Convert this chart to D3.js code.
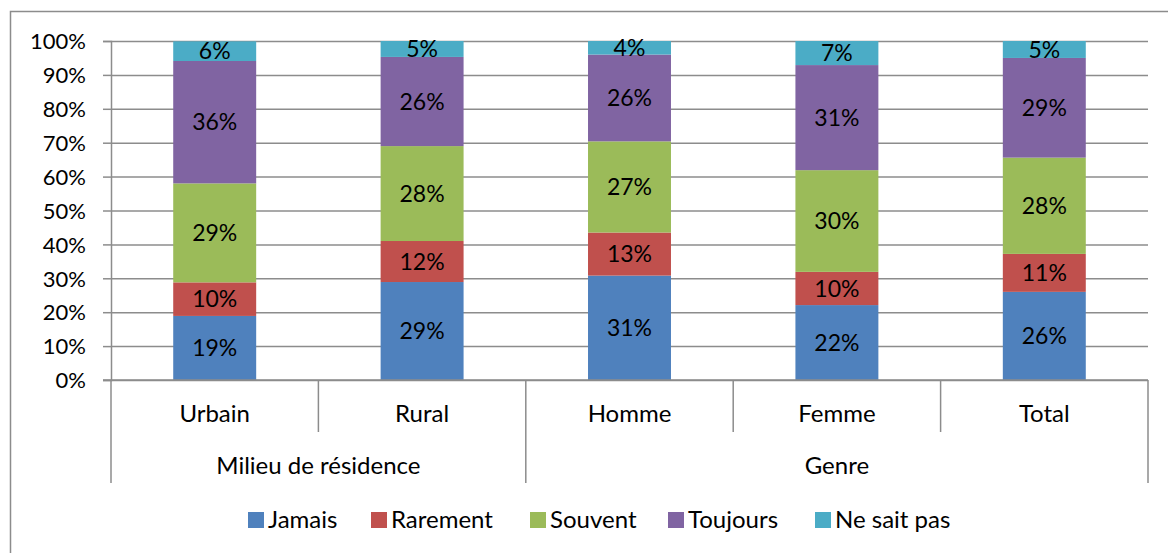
<!DOCTYPE html>
<html>
<head>
<meta charset="utf-8">
<script src="https://cdn.jsdelivr.net/npm/d3@7"></script>
<style>
  body { margin: 0; background: #fff; }
  text { font-family: Lato, "Open Sans", sans-serif; fill: #000; }
</style>
</head>
<body>
<script>
// Data
const categories = ["Urbain", "Rural", "Homme", "Femme", "Total"];
const groups = [
  { name: "Milieu de résidence", from: 0, to: 2 },
  { name: "Genre", from: 2, to: 5 }
];
const seriesNames = ["Jamais", "Rarement", "Souvent", "Toujours", "Ne sait pas"];
const colors = ["#4F81BD", "#C0504D", "#9BBB59", "#8064A2", "#4BACC6"];
const jamais   = [0.189, 0.289, 0.308, 0.221, 0.260];
const rarement = [0.099, 0.121, 0.127, 0.098, 0.112];
const souvent  = [0.292, 0.280, 0.269, 0.300, 0.284];
const toujours = [0.361, 0.263, 0.256, 0.310, 0.294];
const nesaitpas = [0.058, 0.047, 0.040, 0.071, 0.050];
const yTicks = [0, 0.1, 0.2, 0.3, 0.4, 0.5, 0.6, 0.7, 0.8, 0.9, 1];

const width = 1168, height = 553;
const plotLeft = 111, plotRight = 1148, plotTop = 41, plotBottom = 380;
const axisColor = "#8c8c8c";
const fontSize = "23px";
const catFontSize = "24px";

const svg = d3.select("body").append("svg")
  .attr("width", width)
  .attr("height", height);

// chart border
svg.append("rect")
  .attr("x", 10.5).attr("y", 11.5)
  .attr("width", 1300).attr("height", 700)
  .attr("fill", "none")
  .attr("stroke", axisColor)
  .attr("stroke-width", 1.5);

const table = categories.map((c, i) => ({
  cat: c,
  "Jamais": jamais[i], "Rarement": rarement[i], "Souvent": souvent[i],
  "Toujours": toujours[i], "Ne sait pas": nesaitpas[i]
}));
const stacked = d3.stack().keys(seriesNames)(table);

const x = d3.scaleBand().domain(categories).range([plotLeft, plotRight])
  .paddingInner(0.6).paddingOuter(0.3);
const y = d3.scaleLinear().domain([0, 1]).range([plotBottom, plotTop]);

// gridlines + y axis
const yAxis = svg.append("g")
  .attr("transform", `translate(${plotLeft},0)`)
  .call(d3.axisLeft(y).tickValues(yTicks).tickFormat(d3.format(".0%"))
    .tickSize(8).tickPadding(17));
yAxis.select(".domain").attr("stroke", axisColor).attr("stroke-width", 1.5);
yAxis.selectAll(".tick line").attr("stroke", axisColor).attr("stroke-width", 1.5);
yAxis.selectAll(".tick text").style("font-size", "22px").attr("dy", "0.35em");
yAxis.selectAll(".tick").append("line")
  .attr("x1", 0).attr("x2", plotRight - plotLeft)
  .attr("stroke", axisColor).attr("stroke-width", 1.5);

// bars
const layers = svg.append("g").selectAll("g")
  .data(stacked).join("g")
  .attr("fill", (d, i) => colors[i]);
layers.selectAll("rect")
  .data(d => d).join("rect")
  .attr("x", d => x(d.data.cat))
  .attr("y", d => y(d[1]))
  .attr("width", x.bandwidth())
  .attr("height", d => y(d[0]) - y(d[1]));

// data labels
layers.selectAll("text")
  .data(d => d.map(v => ({ v, key: d.key }))).join("text")
  .attr("x", d => x(d.v.data.cat) + x.bandwidth() / 2)
  .attr("y", d => (y(d.v[0]) + y(d.v[1])) / 2)
  .attr("dy", "0.35em")
  .attr("text-anchor", "middle")
  .style("font-size", fontSize)
  .text(d => d3.format(".0%")(d.v.data[d.key]));

// category axis
const step = x.step();
const catStart = i => plotLeft + i * step;
svg.append("line")
  .attr("x1", plotLeft - 8).attr("x2", plotRight)
  .attr("y1", plotBottom).attr("y2", plotBottom)
  .attr("stroke", axisColor).attr("stroke-width", 1.5);

const groupEdges = new Set(groups.flatMap(g => [g.from, g.to]));
d3.range(categories.length + 1).forEach(i => {
  svg.append("line")
    .attr("x1", catStart(i)).attr("x2", catStart(i))
    .attr("y1", plotBottom).attr("y2", groupEdges.has(i) ? 483 : 432)
    .attr("stroke", axisColor).attr("stroke-width", 1.5);
});

svg.append("g").selectAll("text")
  .data(categories).join("text")
  .attr("x", (d, i) => catStart(i) + step / 2)
  .attr("y", 414)
  .attr("dy", "0.35em")
  .attr("text-anchor", "middle")
  .style("font-size", catFontSize)
  .text(d => d);

svg.append("g").selectAll("text")
  .data(groups).join("text")
  .attr("x", g => (catStart(g.from) + catStart(g.to)) / 2)
  .attr("y", 466)
  .attr("dy", "0.35em")
  .attr("text-anchor", "middle")
  .style("font-size", catFontSize)
  .text(g => g.name);

// legend
const legendX = [248, 371, 530, 668, 815];
const legend = svg.append("g").selectAll("g")
  .data(seriesNames).join("g")
  .attr("transform", (d, i) => `translate(${legendX[i]},520)`);
legend.append("rect")
  .attr("x", 0).attr("y", -8)
  .attr("width", 16).attr("height", 16)
  .attr("fill", (d, i) => colors[i]);
legend.append("text")
  .attr("x", 20).attr("dy", "0.35em")
  .style("font-size", catFontSize)
  .text(d => d);
</script>
</body>
</html>
